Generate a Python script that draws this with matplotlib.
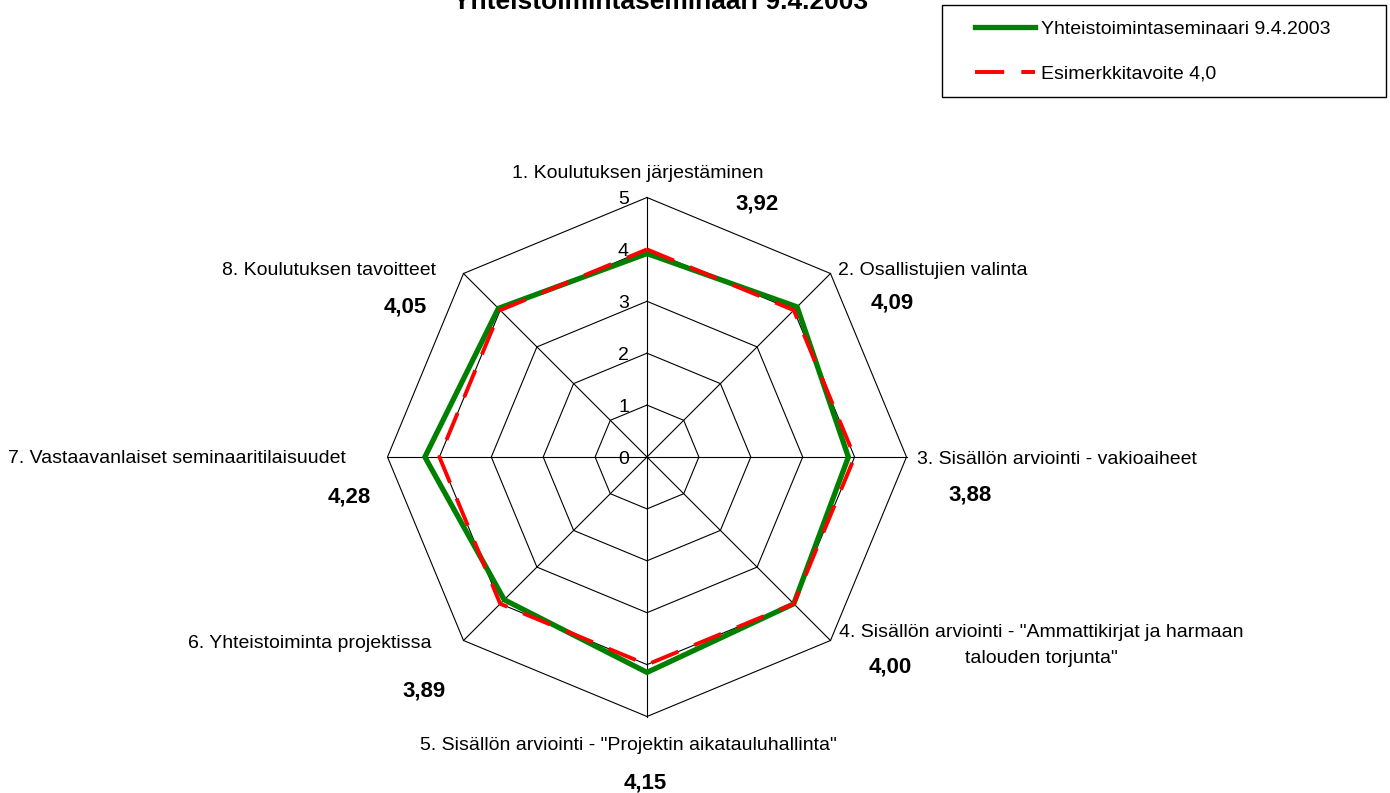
import numpy as np
import matplotlib
matplotlib.use('Agg')
import matplotlib.pyplot as plt
from matplotlib.patches import Rectangle

## DATA
categories = [
    '1. Koulutuksen järjestäminen',
    '2. Osallistujien valinta',
    '3. Sisällön arviointi - vakioaiheet',
    '4. Sisällön arviointi - "Ammattikirjat ja harmaan\ntalouden torjunta"',
    '5. Sisällön arviointi - "Projektin aikatauluhallinta"',
    '6. Yhteistoiminta projektissa',
    '7. Vastaavanlaiset seminaaritilaisuudet',
    '8. Koulutuksen tavoitteet',
]
scores = [3.92, 4.09, 3.88, 4.00, 4.15, 3.89, 4.28, 4.05]
target = [4.0, 4.0, 4.0, 4.0, 4.0, 4.0, 4.0, 4.0]
levels = [0, 1, 2, 3, 4, 5]
series_names = ['Yhteistoimintaseminaari 9.4.2003', 'Esimerkkitavoite 4,0']
TITLE = 'Yhteistoimintaseminaari 9.4.2003'

## LAYOUT (pixels from the top-left corner)
W, H = 1390, 793
CX, CY = 647, 457      # radar centre
UNIT = 51.9            # pixels per score point
FS = 14                # base font size, pt
LINE_PITCH = 26        # pixels between wrapped label lines
# category label anchor: (x, y centre of first line, horizontal alignment)
cat_pos = [(638, 171, 'center'), (838, 268, 'left'), (917, 457, 'left'),
           (1041, 630, 'center'), (628, 743, 'center'), (432, 641, 'right'),
           (346, 456, 'right'), (436, 268, 'right')]
# value label centres
val_pos = [(757, 202), (892, 301), (970, 492), (890, 665),
           (645, 780), (424, 688), (349, 494), (405, 304)]

plt.rcParams['font.family'] = ['Liberation Sans', 'DejaVu Sans']


def ftext(x, yc, s, size=FS, **kw):
    """ put text with its capital letters centred on pixel row yc """
    yb = yc + 0.36 * size * 100 / 72
    return fig.text(x / W, 1 - yb / H, s, fontsize=size, va='baseline', **kw)


fig = plt.figure(figsize=(W / 100, H / 100), dpi=100)
fig.patch.set_facecolor('white')

ax = fig.add_axes([0, 0, 1, 1])
ax.set_xlim(-CX / UNIT, (W - CX) / UNIT)
ax.set_ylim(-(H - CY) / UNIT, CY / UNIT)
ax.set_axis_off()

n = len(categories)
theta = np.arange(n) * 2 * np.pi / n
ct, st = np.cos(theta), np.sin(theta)

# octagonal grid and spokes
for lv in levels[1:]:
    ax.plot(np.append(lv * st, lv * st[0]), np.append(lv * ct, lv * ct[0]),
            color='black', lw=0.8, zorder=1)
for i in range(n):
    ax.plot([0, levels[-1] * st[i]], [0, levels[-1] * ct[i]],
            color='black', lw=0.8, zorder=1)

# scale numbers along the top spoke
for lv in levels:
    yc = CY - lv * UNIT
    ftext(CX - 18, yc, str(lv), ha='right')

# the two series
r = np.array(scores)
green, = ax.plot(np.append(r * st, r[0] * st[0]), np.append(r * ct, r[0] * ct[0]),
                 color='#008000', lw=3.8, solid_joinstyle='miter', zorder=3)
t = np.array(target)
red, = ax.plot(np.append(t * st, t[0] * st[0]), np.append(t * ct, t[0] * ct[0]),
               color='#ff0000', lw=2.8, dashes=(7.5, 4.4), dash_capstyle='butt',
               zorder=4)

# category names (wrapped ones line by line) and values
for i in range(n):
    x, yc, ha = cat_pos[i]
    for k, line in enumerate(categories[i].split('\n')):
        ftext(x, yc + k * LINE_PITCH, line, ha=ha)
    vx, vy = val_pos[i]
    ftext(vx, vy, ('%.2f' % scores[i]).replace('.', ','), size=16,
          ha='center', fontweight='bold')

# title, partly above the top edge
fig.text(661 / W, 1 - 8.6 / H, TITLE, fontsize=19, fontweight='bold',
         ha='center', va='baseline')

# legend with a plain square box
fig.legend([green, red], series_names, loc='upper left',
           bbox_to_anchor=(975 / W, 1 - 20 / H), frameon=False, borderpad=0,
           borderaxespad=0, handlelength=3.1, handletextpad=0.3,
           labelspacing=1.4, fontsize=FS)
fig.patches.append(Rectangle((941.5 / W, 1 - 97 / H), 444 / W, 92 / H,
                             transform=fig.transFigure, fill=False,
                             ec='black', lw=1))

fig.savefig('out.png', dpi=100)
